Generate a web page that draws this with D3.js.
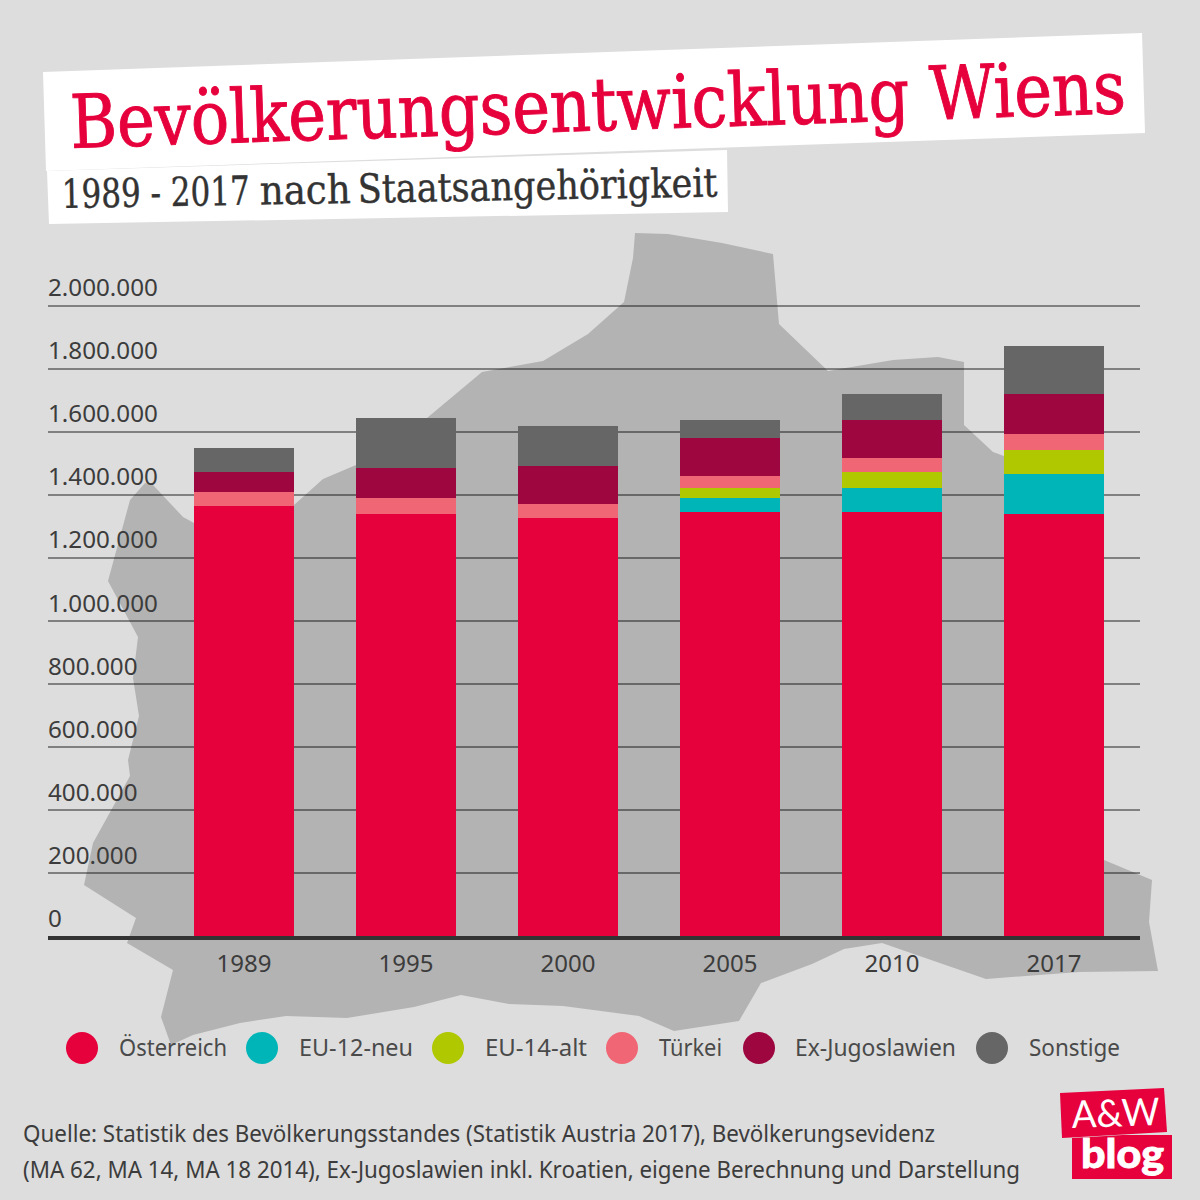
<!DOCTYPE html>
<html>
<head>
<meta charset="utf-8">
<script src="https://cdnjs.cloudflare.com/ajax/libs/d3/7.8.5/d3.min.js"></script>
<style>
  html, body { margin: 0; padding: 0; background: #dddddd; }
  svg { display: block; }
  text { font-family: "Noto Sans", sans-serif; }
</style>
</head>
<body>
<div id="container"></div>
<script>
// Data
let years = ["1989", "1995", "2000", "2005", "2010", "2017"];
let oesterreich = [1363000, 1338000, 1325000, 1344000, 1344000, 1338000];
let eu12 = [0, 0, 0, 45000, 76000, 127000];
let eu14 = [0, 0, 0, 31000, 51000, 76000];
let tuerkei = [45000, 51000, 45000, 38000, 44000, 50000];
let exJugoslawien = [63000, 95000, 120000, 121000, 121000, 127000];
let sonstige = [76000, 158000, 127000, 57000, 82000, 152000];
let yTicks = [0, 200000, 400000, 600000, 800000, 1000000, 1200000, 1400000, 1600000, 1800000, 2000000];

let seriesNames = ["Österreich", "EU-12-neu", "EU-14-alt", "Türkei", "Ex-Jugoslawien", "Sonstige"];
let seriesValues = [oesterreich, eu12, eu14, tuerkei, exJugoslawien, sonstige];
let seriesColors = ["#e6003c", "#00b5b8", "#afc800", "#f06674", "#9e0640", "#666666"];

// legend: dot centre and where the label starts / its width
let legendDotX = [82, 262, 448, 622, 759, 992];
let legendTextX = [119, 299, 485, 659, 795, 1029];
let legendTextW = [108, 114, 102, 63, 161, 91];

// outline of Vienna behind the bars
let viennaOutline = [
  [635,233],[668,234],[722,243],[773,254],[779,324],[828,371],[893,360],[938,357],[964,362],
  [964,425],[993,452],[1004,456],[1104,860],[1152,880],[1149,922],[1158,971],[1079,972],[986,979],
  [882,943],[844,949],[812,964],[761,983],[739,1021],[674,1031],[639,1016],[563,1006],[509,1004],
  [461,995],[414,1007],[347,1018],[286,1016],[240,1023],[193,1035],[171,1045],[161,1017],[173,970],
  [127,943],[136,918],[84,885],[93,843],[130,776],[128,760],[139,716],[133,678],[138,637],[108,581],
  [130,500],[145,483],[153,485],[183,517],[194,523],[294,505],[323,479],[356,465],[427,418],[482,372],
  [543,361],[588,334],[624,302],[633,258]
];

let w = 1200;
let h = 1200;

let svg = d3.select("#container")
  .append("svg")
  .attr("width", w)
  .attr("height", h);

svg.append("rect").attr("width", w).attr("height", h).attr("fill", "#dddddd");

let outlineLine = d3.line().curve(d3.curveLinearClosed);
svg.append("path")
  .attr("d", outlineLine(viennaOutline))
  .attr("fill", "#b3b3b3");

// Scales
let x = d3.scaleBand()
  .domain(years)
  .range([163, 1135])
  .paddingInner(62 / 162)
  .paddingOuter(31 / 162);

let y = d3.scaleLinear()
  .domain([0, 2000000])
  .range([936, 305]);

let de = d3.formatLocale({ decimal: ",", thousands: ".", grouping: [3], currency: ["", "€"] });

// y axis with the grid lines
let yAxis = svg.append("g")
  .attr("transform", "translate(48,0)")
  .call(d3.axisLeft(y).tickValues(yTicks).tickFormat(de.format(",d")).tickSize(-1092).offset(0));
yAxis.select(".domain").remove();
yAxis.selectAll("line")
  .attr("stroke", "#000")
  .attr("stroke-opacity", 0.42)
  .attr("stroke-width", 2)
  .attr("shape-rendering", "crispEdges")
  .attr("transform", "translate(0,0.5)");
yAxis.selectAll("text")
  .attr("x", 0)
  .attr("dy", -9)
  .attr("text-anchor", "start")
  .attr("font-size", 24.2)
  .attr("fill", "#3c3c3c")
  .style("font-family", '"Noto Sans", sans-serif');

// Stacked bars
let rows = years.map((yr, i) => {
  let row = { year: yr };
  seriesNames.forEach((n, j) => row[n] = seriesValues[j][i]);
  return row;
});
let stacked = d3.stack().keys(seriesNames)(rows);

svg.append("g")
  .selectAll("g")
  .data(stacked)
  .enter()
  .append("g")
    .attr("fill", (d, i) => seriesColors[i])
  .selectAll("rect")
  .data(d => d.filter(p => p[1] > p[0]))
  .enter()
  .append("rect")
    .attr("x", d => x(d.data.year))
    .attr("width", x.bandwidth())
    .attr("y", d => y(d[1]))
    .attr("height", d => y(d[0]) - y(d[1]))
    .attr("shape-rendering", "crispEdges");

// x axis
let xAxis = svg.append("g")
  .attr("transform", "translate(0,938)")
  .call(d3.axisBottom(x).tickSize(0));
xAxis.select(".domain").remove();
xAxis.selectAll("text")
  .attr("y", 34)
  .attr("dy", 0)
  .attr("font-size", 24)
  .attr("fill", "#3c3c3c")
  .style("font-family", '"Noto Sans", sans-serif');

svg.append("line")
  .attr("x1", 48).attr("x2", 1140)
  .attr("y1", 938).attr("y2", 938)
  .attr("stroke", "#333333")
  .attr("stroke-width", 4);

// Legend
let legend = svg.append("g");
legend.selectAll("circle")
  .data(seriesNames)
  .enter()
  .append("circle")
    .attr("cx", (d, i) => legendDotX[i])
    .attr("cy", 1048)
    .attr("r", 16)
    .attr("fill", (d, i) => seriesColors[i]);
legend.selectAll("text")
  .data(seriesNames)
  .enter()
  .append("text")
    .attr("x", (d, i) => legendTextX[i])
    .attr("y", 1056)
    .attr("font-size", 24)
    .attr("fill", "#4a4a4a")
    .attr("textLength", (d, i) => legendTextW[i])
    .attr("lengthAdjust", "spacingAndGlyphs")
    .text(d => d);

// Title strips
function strip(points, fill) {
  svg.append("polygon")
    .attr("points", points.map(p => p.join(",")).join(" "))
    .attr("fill", fill);
}
strip([[43,72],[1142,33],[1145,133],[46,171]], "#ffffff");
strip([[47,171],[727,150],[728,212],[49,224]], "#ffffff");

let slab = '"DejaVu Serif Condensed", "DejaVu Serif", serif';

svg.append("text")
  .attr("transform", "translate(71,148) rotate(-1.9)")
  .attr("font-size", 74)
  .attr("fill", "#e6003c")
  .attr("stroke", "#e6003c")
  .attr("stroke-width", 0.9)
  .attr("textLength", 1056)
  .attr("lengthAdjust", "spacingAndGlyphs")
  .style("font-family", slab)
  .text("Bevölkerungsentwicklung Wiens");

// subtitle is set word group by word group, the digits run narrow in the original.
// squeezed with a scale so each part's box really ends where the ink ends
let subtitleParts = ["1989 - 2017", "nach", "Staatsangehörigkeit"];
let subtitleX = [0, 198, 296];
let subtitleW = [188, 91, 360];
let subtitle = svg.append("g")
  .attr("transform", "translate(62,208) rotate(-1)");
subtitle.selectAll("text")
  .data(subtitleParts)
  .enter()
  .append("text")
    .attr("font-size", 40)
    .attr("fill", "#333333")
    .attr("stroke", "#333333")
    .attr("stroke-width", 0.4)
    .style("font-family", slab)
    .text(d => d)
    .attr("transform", function(d, i) {
      let natural = this.getComputedTextLength();
      return "translate(" + subtitleX[i] + ",0) scale(" + (subtitleW[i] / natural) + ",1)";
    });

// Source
let sourceLines = [
  "Quelle: Statistik des Bevölkerungsstandes (Statistik Austria 2017), Bevölkerungsevidenz",
  "(MA 62, MA 14, MA 18 2014), Ex-Jugoslawien inkl. Kroatien, eigene Berechnung und Darstellung"
];
let sourceY = [1142, 1178];
let sourceW = [912, 997];
svg.append("g").selectAll("text")
  .data(sourceLines)
  .enter()
  .append("text")
    .attr("x", 23)
    .attr("y", (d, i) => sourceY[i])
    .attr("font-size", 24)
    .attr("fill", "#3c3c3c")
    .attr("textLength", (d, i) => sourceW[i])
    .attr("lengthAdjust", "spacingAndGlyphs")
    .text(d => d);

// Logo
strip([[1060,1093],[1164,1088],[1167,1132],[1062,1138]], "#e6003c");
strip([[1072,1138],[1123,1135],[1172,1135],[1172,1179],[1072,1179]], "#e6003c");
svg.append("text")
  .attr("transform", "translate(1072,1128) rotate(-2)")
  .attr("font-size", 38)
  .attr("font-weight", 400)
  .attr("fill", "#ffffff")
  .attr("textLength", 88)
  .attr("lengthAdjust", "spacingAndGlyphs")
  .style("font-family", 'Lato, "Noto Sans", sans-serif')
  .text("A&W");
svg.append("text")
  .attr("x", 1081)
  .attr("y", 1168)
  .attr("font-size", 40)
  .attr("font-weight", 900)
  .attr("fill", "#ffffff")
  .attr("stroke", "#ffffff")
  .attr("stroke-width", 0.8)
  .attr("textLength", 83)
  .attr("lengthAdjust", "spacingAndGlyphs")
  .style("font-family", 'Lato, "Noto Sans", sans-serif')
  .text("blog");
</script>
</body>
</html>
